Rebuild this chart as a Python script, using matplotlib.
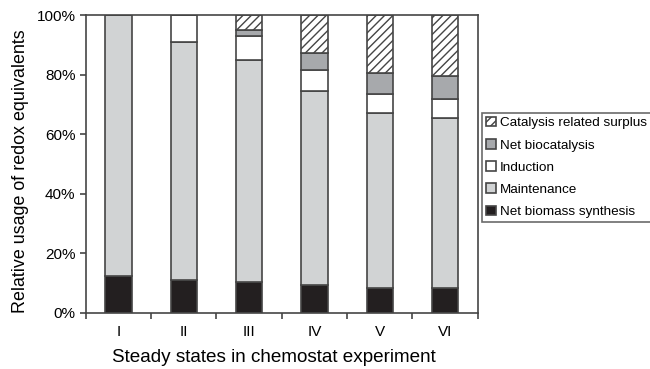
import matplotlib.pyplot as plt
from matplotlib.ticker import FuncFormatter, MultipleLocator
import numpy as np

plt.rcParams['font.family'] = ['Liberation Sans', 'DejaVu Sans']
plt.rcParams['hatch.linewidth'] = 1.0

# Daten (% der Redoxäquivalente)
states = ["I", "II", "III", "IV", "V", "VI"]
biomass = [12.3, 11.2, 10.4, 9.3, 8.2, 8.2]
maintenance = [87.7, 79.7, 74.5, 65.3, 59.0, 57.4]
induction = [0.0, 9.1, 8.0, 6.9, 6.3, 6.3]
biocatalysis = [0.0, 0.0, 2.1, 5.8, 7.1, 7.6]
surplus = [0.0, 0.0, 5.0, 12.7, 19.4, 20.5]

edge = "#454545"
series = [
    ("Net biomass synthesis", biomass, "#231f20", None),
    ("Maintenance", maintenance, "#d1d3d4", None),
    ("Induction", induction, "white", None),
    ("Net biocatalysis", biocatalysis, "#a7a9ac", None),
    ("Catalysis related surplus", surplus, "white", "////"),
]

fig = plt.figure(figsize=(6.5, 3.69), dpi=100)
ax = fig.add_axes([0.132, 0.152, 0.603, 0.807])

x = np.arange(len(states))
bottom = np.zeros(len(states))
for name, vals, col, hatch in series:
    vals = np.array(vals)
    ax.bar(x, vals, 0.4, bottom=bottom, color=col, edgecolor=edge,
           linewidth=1.2, hatch=hatch, label=name)
    bottom += vals

ax.set_xlim(-0.5, len(states) - 0.5)
ax.set_ylim(0, 100)
ax.yaxis.set_major_locator(MultipleLocator(20))
ax.yaxis.set_major_formatter(FuncFormatter(lambda v, p: f"{v:.0f}%"))
ax.set_xticks(x)
ax.set_xticklabels(states)
ax.set_xticks(np.arange(-0.5, len(states)), minor=True)
ax.tick_params(axis="x", which="major", length=0, pad=9, labelsize=11)
ax.tick_params(axis="x", which="minor", length=4, width=1.2, color=edge)
ax.tick_params(axis="y", length=4, width=1.2, color=edge, labelsize=11)
for s in ax.spines.values():
    s.set_color(edge)
    s.set_linewidth(1.2)

ax.set_xlabel("Steady states in chemostat experiment", fontsize=13.6)
ax.xaxis.set_label_coords(0.48, -0.122)
ax.set_ylabel("Relative usage of redox equivalents", fontsize=12.9)
ax.yaxis.set_label_coords(-0.145, 0.476)

handles, labels = ax.get_legend_handles_labels()
leg = fig.legend(handles[::-1], labels[::-1], loc="center left",
                 bbox_to_anchor=(0.742, 0.546), fontsize=9.7, frameon=True,
                 fancybox=False, edgecolor=edge, handlelength=0.7,
                 handleheight=0.7, handletextpad=0.3, borderpad=0.3,
                 labelspacing=0.72, borderaxespad=0)
leg.get_frame().set_linewidth(1.2)

fig.savefig("out.png", dpi=100)
